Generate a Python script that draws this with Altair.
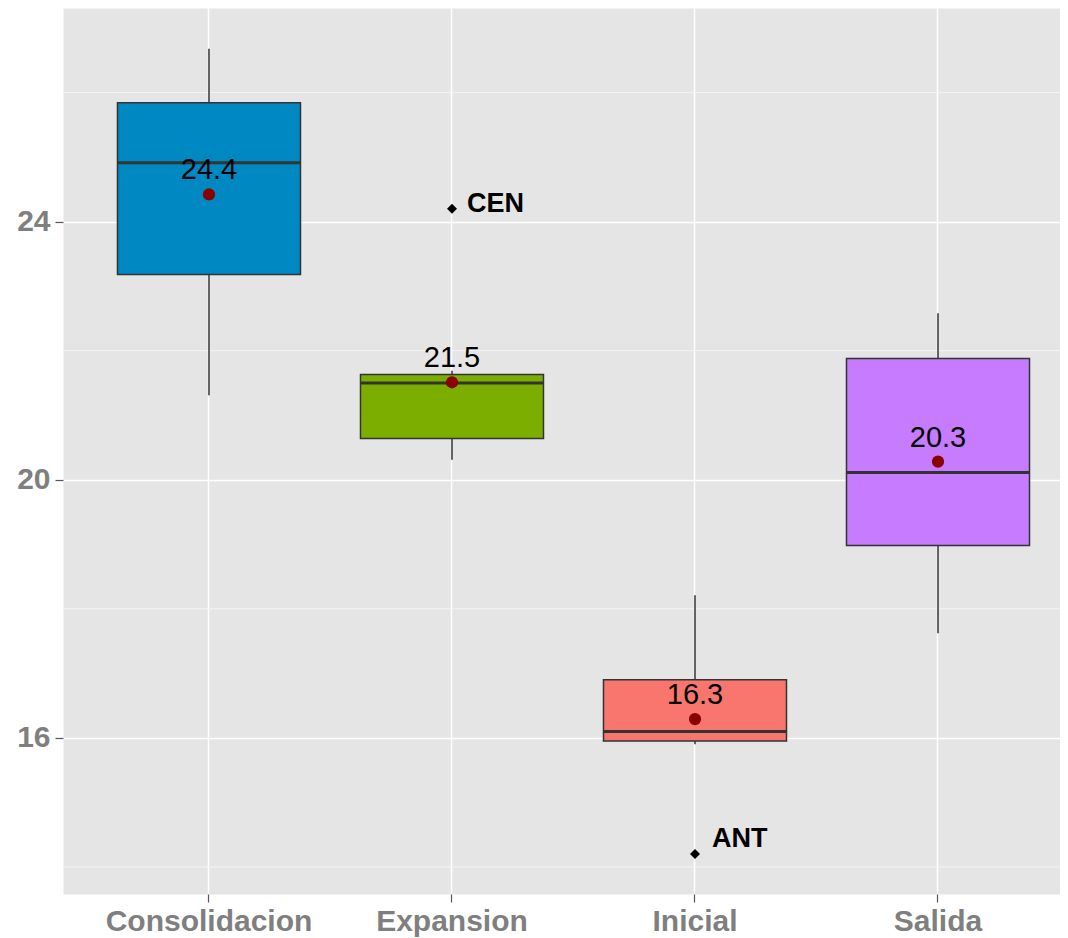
import altair as alt
import pandas as pd

# ---- data ----
categories = ["Consolidacion", "Expansion", "Inicial", "Salida"]
whisker_low = [21.31, 20.31, 15.90, 17.62]
q1 = [23.18, 20.64, 15.95, 18.98]
median = [24.91, 21.50, 16.10, 20.11]
q3 = [25.84, 21.63, 16.90, 21.88]
whisker_high = [26.68, 21.69, 18.21, 22.58]
means = [24.42, 21.51, 16.29, 20.28]
box_colors = ["#0088C2", "#7CAE00", "#F8766D", "#C77CFF"]

outlier_cats = ["Expansion", "Inicial"]
outlier_vals = [24.20, 14.20]
outlier_labels = ["CEN", "ANT"]

major_ticks = [16, 20, 24]
minor_ticks = [14, 18, 22, 26]
y_domain = [13.58, 27.31]

# ---- tables ----
stats = pd.DataFrame({
    "cat": categories,
    "lo": whisker_low,
    "q1": q1,
    "med": median,
    "q3": q3,
    "hi": whisker_high,
    "mean": means,
    "label": [f"{m:.1f}" for m in means],
})
outliers = pd.DataFrame({"cat": outlier_cats, "val": outlier_vals, "lab": outlier_labels})
minor = pd.DataFrame({"v": minor_ticks})

FONT = "Liberation Sans"
BOXW = 183

xscale = alt.Scale(domain=categories, paddingInner=0, paddingOuter=0.0514, align=0.98)
yscale = alt.Scale(domain=y_domain, nice=False, zero=False)

x_axis = alt.Axis(
    title=None, domain=False, labelFont=FONT, labelFontSize=30, labelFontWeight="bold",
    labelColor="#7F7F7F", tickColor="#555555", tickSize=8, tickWidth=1.2, labelPadding=4,
    grid=True, gridColor="white", gridWidth=1.5, bandPosition=0.5, labelAngle=0,
    labelLimit=500,
)
y_axis = alt.Axis(
    title=None, domain=False, values=major_ticks, format="d", labelFont=FONT, labelFontSize=30,
    labelFontWeight="bold", labelColor="#7F7F7F", tickColor="#555555", tickSize=8,
    tickWidth=1.2, labelPadding=5, grid=True, gridColor="white", gridWidth=1.5,
    labelLimit=200,
)

X = alt.X("cat:N", scale=xscale, axis=x_axis, sort=categories)

minor_layer = alt.Chart(minor).mark_rule(color="#F4F4F4", strokeWidth=1).encode(
    y=alt.Y("v:Q", scale=yscale, axis=y_axis)
)

base = alt.Chart(stats)

whiskers = base.mark_rule(color="#333333", strokeWidth=1.5).encode(
    x=X, y=alt.Y("lo:Q", scale=yscale), y2="hi:Q"
)

boxes = base.mark_bar(size=BOXW, stroke="#333333", strokeWidth=1.5, opacity=1).encode(
    x=X,
    y=alt.Y("q1:Q", scale=yscale),
    y2="q3:Q",
    color=alt.Color("cat:N", scale=alt.Scale(domain=categories, range=box_colors), legend=None),
)

medians = base.mark_tick(size=BOXW, thickness=3, color="#333333", opacity=1).encode(
    x=X, y=alt.Y("med:Q", scale=yscale)
)

mean_pts = base.mark_circle(size=150, color="#8B0000", opacity=1).encode(
    x=X, y=alt.Y("mean:Q", scale=yscale)
)

mean_txt = base.mark_text(
    dy=-15, baseline="alphabetic", font=FONT, fontSize=29, color="black"
).encode(x=X, y=alt.Y("mean:Q", scale=yscale), text="label:N")

out_pts = alt.Chart(outliers).mark_point(
    shape="diamond", filled=True, size=100, color="black", opacity=1
).encode(x=X, y=alt.Y("val:Q", scale=yscale))

out_cen = alt.Chart(outliers).transform_filter(alt.datum.lab == "CEN").mark_text(
    align="left", baseline="alphabetic", dx=15, dy=3, font=FONT, fontSize=27,
    fontWeight="bold", color="black"
).encode(x=X, y=alt.Y("val:Q", scale=yscale), text="lab:N")

out_ant = alt.Chart(outliers).transform_filter(alt.datum.lab == "ANT").mark_text(
    align="left", baseline="alphabetic", dx=17, dy=-7, font=FONT, fontSize=27,
    fontWeight="bold", color="black"
).encode(x=X, y=alt.Y("val:Q", scale=yscale), text="lab:N")

chart = alt.layer(
    minor_layer, whiskers, boxes, medians, mean_pts, mean_txt, out_pts, out_cen, out_ant
).properties(
    width=997,
    height=886,
    padding={"left": 55, "top": 0, "right": 0, "bottom": 44},
    autosize=alt.AutoSizeParams(type="none"),
    background="white",
).configure_view(fill="#E5E5E5", stroke="transparent")

chart.save("out.html", embed_options={"renderer": "svg", "actions": False})
